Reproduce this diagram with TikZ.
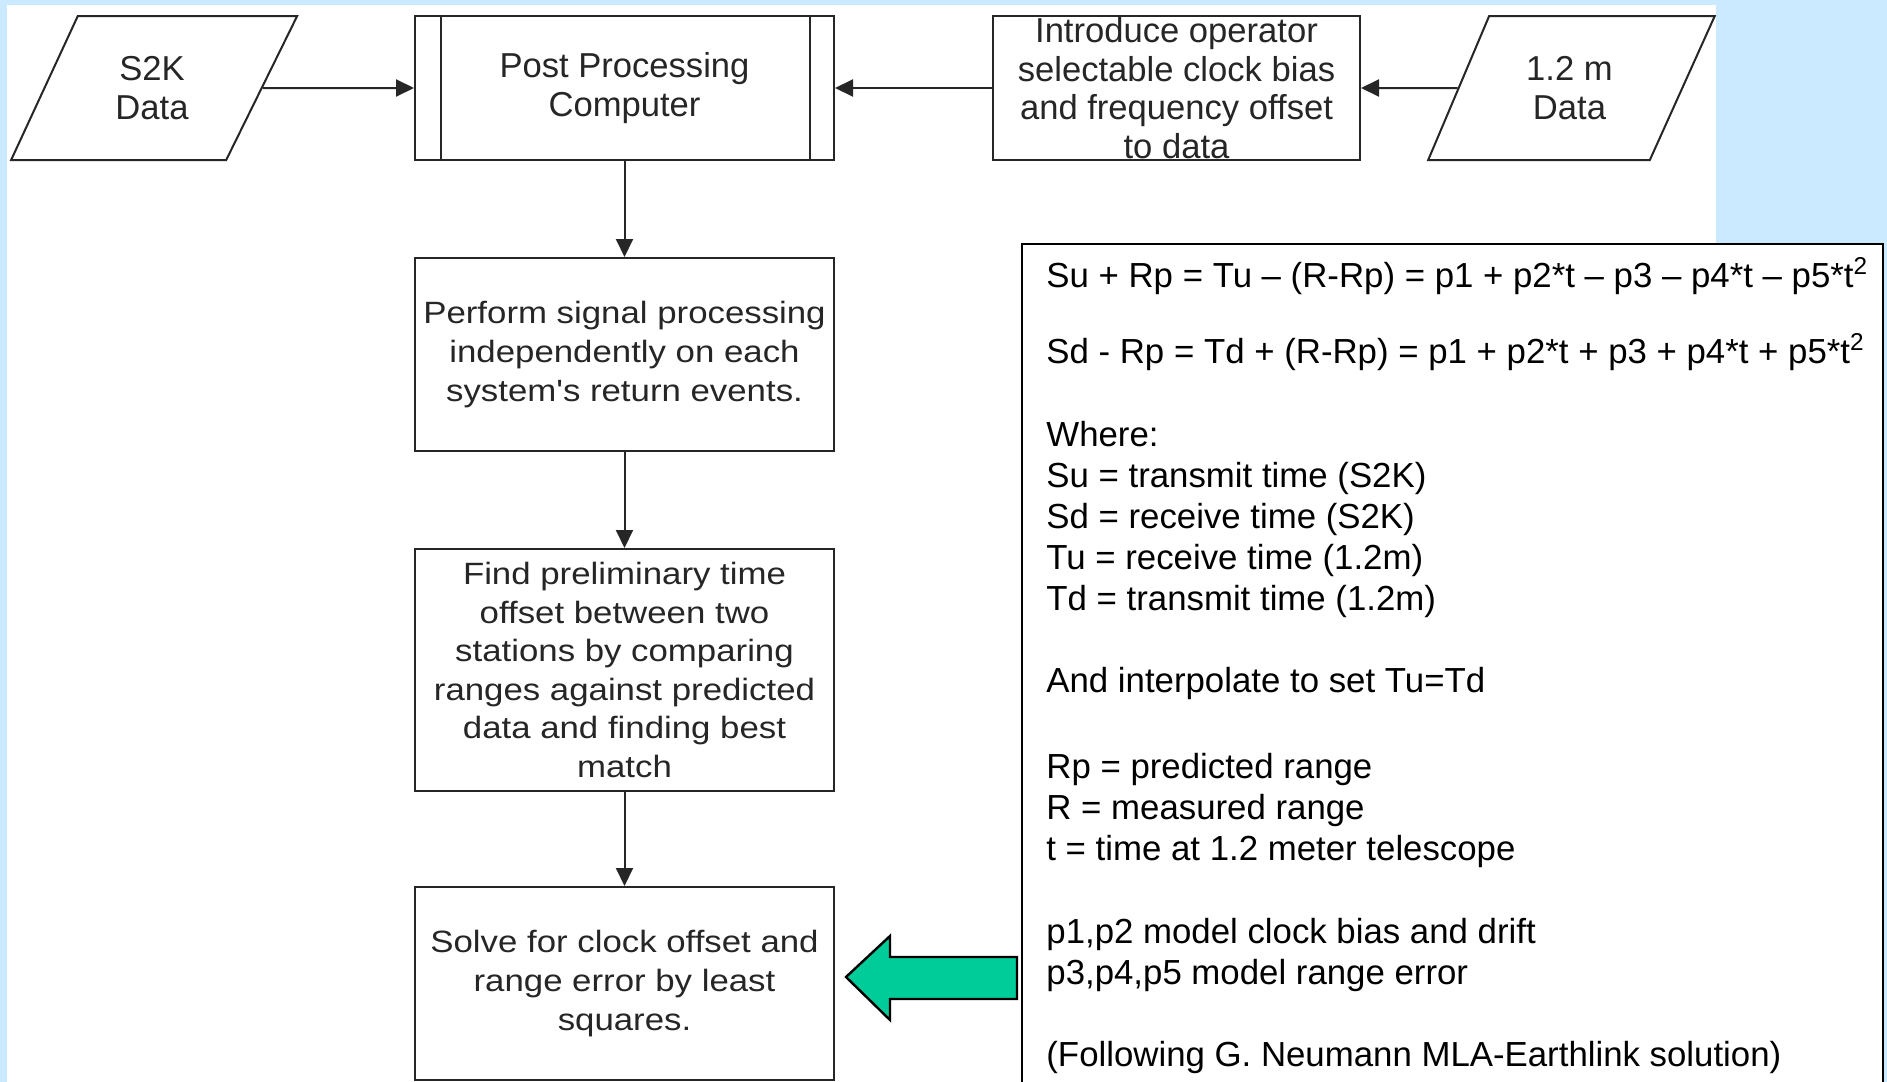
\documentclass[tikz,border=0pt]{standalone}
\usepackage{fontspec}
\setmainfont{Liberation Sans}
\newfontfamily\widefont[FakeStretch=1.13]{Liberation Sans}
\usetikzlibrary{shapes.geometric,arrows.meta}
\definecolor{bgblue}{HTML}{CCEAFF}
\definecolor{arrowgreen}{HTML}{00CC99}
\tikzset{
  flow/.style={draw=black!85, line width=1pt, text=black!85},
  topbox/.style={flow, rectangle, minimum height=72pt, inner sep=0pt,
    font=\fontsize{17.3}{19.3}\selectfont, align=center},
  databox/.style={flow, trapezium, trapezium left angle=62.5,
    trapezium right angle=119, trapezium stretches=true,
    minimum width=144pt, minimum height=72pt, inner sep=0pt,
    font=\fontsize{17.3}{19.3}\selectfont, align=center},
  stepbox/.style={flow, rectangle, minimum width=209.5pt, inner sep=0pt,
    font=\widefont\fontsize{15.4}{19.3}\selectfont, align=center},
  flowarrow/.style={draw=black!85, line width=1pt, -{Triangle[length=9pt,width=8.5pt]}},
  eqtext/.style={anchor=base west, inner sep=0pt, font=\fontsize{17.4}{20.5}\selectfont},
}
\begin{document}
\begin{tikzpicture}[x=0.5pt, y=-0.5pt]
    \useasboundingbox (0,0) rectangle (1887,1082);
    \fill[bgblue] (0,0) rectangle (1887,1082);
    \fill[white] (7,5) rectangle (1716,1082);

    % top row
    \node[databox] (s2k) at (152,88) {S2K\\Data};
    \node[topbox, minimum width=209.5pt] (ppc) at (624.5,88) {Post Processing\\Computer};
    \draw[flow] ([xshift=13.5pt]ppc.north west) -- ([xshift=13.5pt]ppc.south west);
    \draw[flow] ([xshift=-12.5pt]ppc.north east) -- ([xshift=-12.5pt]ppc.south east);
    \node[topbox, minimum width=183.5pt, inner ysep=-3pt] (intro) at (1176.5,88)
        {Introduce operator\\selectable clock bias\\and frequency offset\\to data};
    \node[databox] (d12) at (1569.5,88) {1.2 m\\Data};

    % processing steps
    \node[stepbox, minimum height=96.5pt] (perform) at (624.5,354.5)
        {Perform signal processing\\independently on each\\system's return events.};
    \node[stepbox, minimum height=121pt] (find) at (624.5,670)
        {Find preliminary time\\offset between two\\stations by comparing\\ranges against predicted\\data and finding best\\match};
    \node[stepbox, minimum height=96.5pt] (solve) at (624.5,983.5)
        {Solve for clock offset and\\range error by least\\squares.};

    \draw[flowarrow] (s2k.east) -- (ppc.west);
    \draw[flowarrow] (d12.west) -- (intro.east);
    \draw[flowarrow] (intro.west) -- (ppc.east);
    \draw[flowarrow] (ppc.south) -- (perform.north);
    \draw[flowarrow] (perform.south) -- (find.north);
    \draw[flowarrow] (find.south) -- (solve.north);

    % model box
    \draw[fill=white, line width=1.2pt] (1022,244) rectangle (1883,1100);
    \node[eqtext] (eq1) at (1046,287) {Su + Rp = Tu – (R-Rp) = p1 + p2*t – p3 – p4*t – p5*t\textsuperscript{2}};
    \node[eqtext] (eq2) at (1046,363) {Sd - Rp = Td + (R-Rp) = p1 + p2*t + p3 + p4*t + p5*t\textsuperscript{2}};
    \node[eqtext] (where) at (1046,446) {Where:};
    \node[eqtext] (su) at (1046,487) {Su = transmit time (S2K)};
    \node[eqtext] (sd) at (1046,528) {Sd = receive time (S2K)};
    \node[eqtext] (tu) at (1046,569) {Tu = receive time (1.2m)};
    \node[eqtext] (td) at (1046,610) {Td = transmit time (1.2m)};
    \node[eqtext] (interp) at (1046,692) {And interpolate to set Tu=Td};
    \node[eqtext] (rp) at (1046,778) {Rp = predicted range};
    \node[eqtext] (r) at (1046,819) {R = measured range};
    \node[eqtext] (t) at (1046,860) {t = time at 1.2 meter telescope};
    \node[eqtext] (clk) at (1046,943) {p1,p2 model clock bias and drift};
    \node[eqtext] (rng) at (1046,984) {p3,p4,p5 model range error};
    \node[eqtext] (ref) at (1046,1066) {(Following G. Neumann MLA-Earthlink solution)};

    % block arrow towards the solver
    \draw[fill=arrowgreen, line width=1.2pt, line join=miter]
        (846,977) -- (890,936) -- (890,957) -- (1017,957) -- (1017,999)
        -- (890,999) -- (890,1020) -- cycle;
\end{tikzpicture}
\end{document}
